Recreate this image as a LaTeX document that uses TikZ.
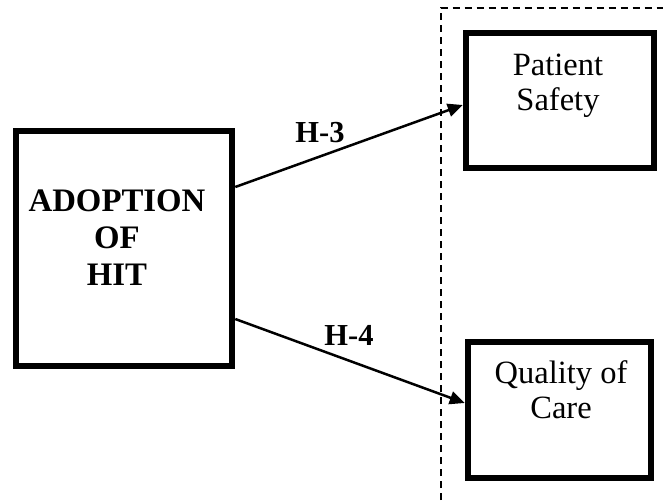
\documentclass[tikz,border=0pt]{standalone}
\usepackage{fontspec}
\setmainfont{Liberation Serif}
\usetikzlibrary{arrows.meta}
\begin{document}
\begin{tikzpicture}[x=1pt,y=-1pt,
  box/.style={draw, line width=6.5pt, inner sep=0pt, minimum width=#1},
  boxtext/.style={inner sep=0pt, align=center, font=\fontsize{32.5}{35}\selectfont},
  hyplabel/.style={inner sep=0pt, anchor=base, font=\bfseries\fontsize{30.5}{34}\selectfont},
  link/.style={line width=2.5pt, -{Triangle[length=15pt,width=13pt]}},
  frame/.style={line width=2pt, dash pattern=on 7pt off 5pt}]
  \useasboundingbox (0,0) rectangle (663,500);

  % boxes
  \node[box=216pt, minimum height=235pt] (hit) at (124,248.5) {};
  \node[box=188pt, minimum height=135pt] (safety) at (560,100.5) {};
  \node[box=183pt, minimum height=136pt] (care) at (559.5,410) {};

  % box texts
  \node[inner sep=0pt, align=center, font=\bfseries\fontsize{32.8}{37}\selectfont]
    (hittext) at (117,237.5) {ADOPTION\\OF\\HIT};
  \node[boxtext] (safetytext) at (558,85.5) {Patient\\Safety};
  \node[boxtext] (caretext) at (561,390) {Quality of\\Care};

  % dashed outcome frame
  \coordinate (fbottom) at (440.5,500);
  \coordinate (fcorner) at (440.5,8);
  \coordinate (fright) at (663,8);
  \draw[frame] (fbottom) -- (fcorner) -- (fright);

  % hypotheses
  \draw[link] ([yshift=61.5pt]hit.east) -- ([yshift=-4.5pt]safety.west);
  \draw[link] ([yshift=-70.5pt]hit.east) -- ([yshift=7pt]care.west);
  \node[hyplabel] (h3) at (320,142) {H-3};
  \node[hyplabel] (h4) at (349,345) {H-4};
\end{tikzpicture}
\end{document}
